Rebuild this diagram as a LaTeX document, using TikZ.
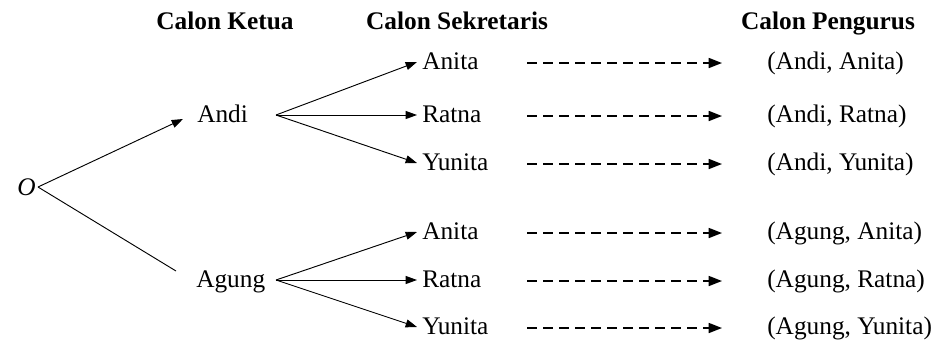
\documentclass[tikz,border=0pt]{standalone}
\usepackage{fontspec}
\setmainfont{Liberation Serif}
\usetikzlibrary{arrows.meta}
\begin{document}
\begin{tikzpicture}[x=0.75pt,y=-0.75pt,
  txt/.style={anchor=base west,inner sep=0pt,font=\fontsize{19}{22}\selectfont},
  hdr/.style={anchor=base,inner sep=0pt,font=\fontsize{19}{22}\selectfont\bfseries},
  solidarrow/.style={line width=0.7pt,-{Triangle[length=8.5pt,width=6pt]}},
  plainline/.style={line width=0.7pt},
  dasharrow/.style={line width=1.2pt,dash pattern=on 7.5pt off 4.5pt,-{Triangle[length=10pt,width=7.5pt]}}]
\useasboundingbox (0,0) rectangle (936,340);
% headers
\node[hdr] (h1) at (225,29) {Calon Ketua};
\node[hdr] (h2) at (457,29) {Calon Sekretaris};
\node[hdr] (h3) at (828,29) {Calon Pengurus};
% root
\node[anchor=east,inner sep=0pt,font=\fontsize{19}{22}\selectfont\itshape] (O) at (36,187) {O};
\coordinate (o) at (38,187);
% level 1
\node[txt] (andi) at (197,122) {Andi};
\node[txt] (agung) at (196,287) {Agung};
\coordinate (andiIn) at (183,119);
\coordinate (agungIn) at (176,271);
\coordinate (andiOut) at (276,115);
\coordinate (agungOut) at (276,280);
% level 2
\foreach \n/\t/\y in {a1/Anita/62,r1/Ratna/115,y1/Yunita/163,a2/Anita/232,r2/Ratna/280,y2/Yunita/327}{
  \coordinate (\n in) at (417,\y);
  \node[txt] (\n) at (422,\y+7) {\t};
  \coordinate (\n ds) at (527,\y+1);
  \coordinate (\n de) at (722,\y+1);
}
% results
\node[txt] (p1) at (767,69) {(Andi, Anita)};
\node[txt] (p2) at (767,122) {(Andi, Ratna)};
\node[txt] (p3) at (767,170) {(Andi, Yunita)};
\node[txt] (p4) at (767,239) {(Agung, Anita)};
\node[txt] (p5) at (767,287) {(Agung, Ratna)};
\node[txt] (p6) at (767,334) {(Agung, Yunita)};
% connectors
\draw[solidarrow] (o) -- (andiIn);
\draw[plainline] (o) -- (agungIn);
\foreach \n in {a1,r1,y1}{\draw[solidarrow] (andiOut) -- (\n in);}
\foreach \n in {a2,r2,y2}{\draw[solidarrow] (agungOut) -- (\n in);}
\foreach \n in {a1,r1,y1,a2,r2,y2}{\draw[dasharrow] (\n ds) -- (\n de);}
\end{tikzpicture}
\end{document}
